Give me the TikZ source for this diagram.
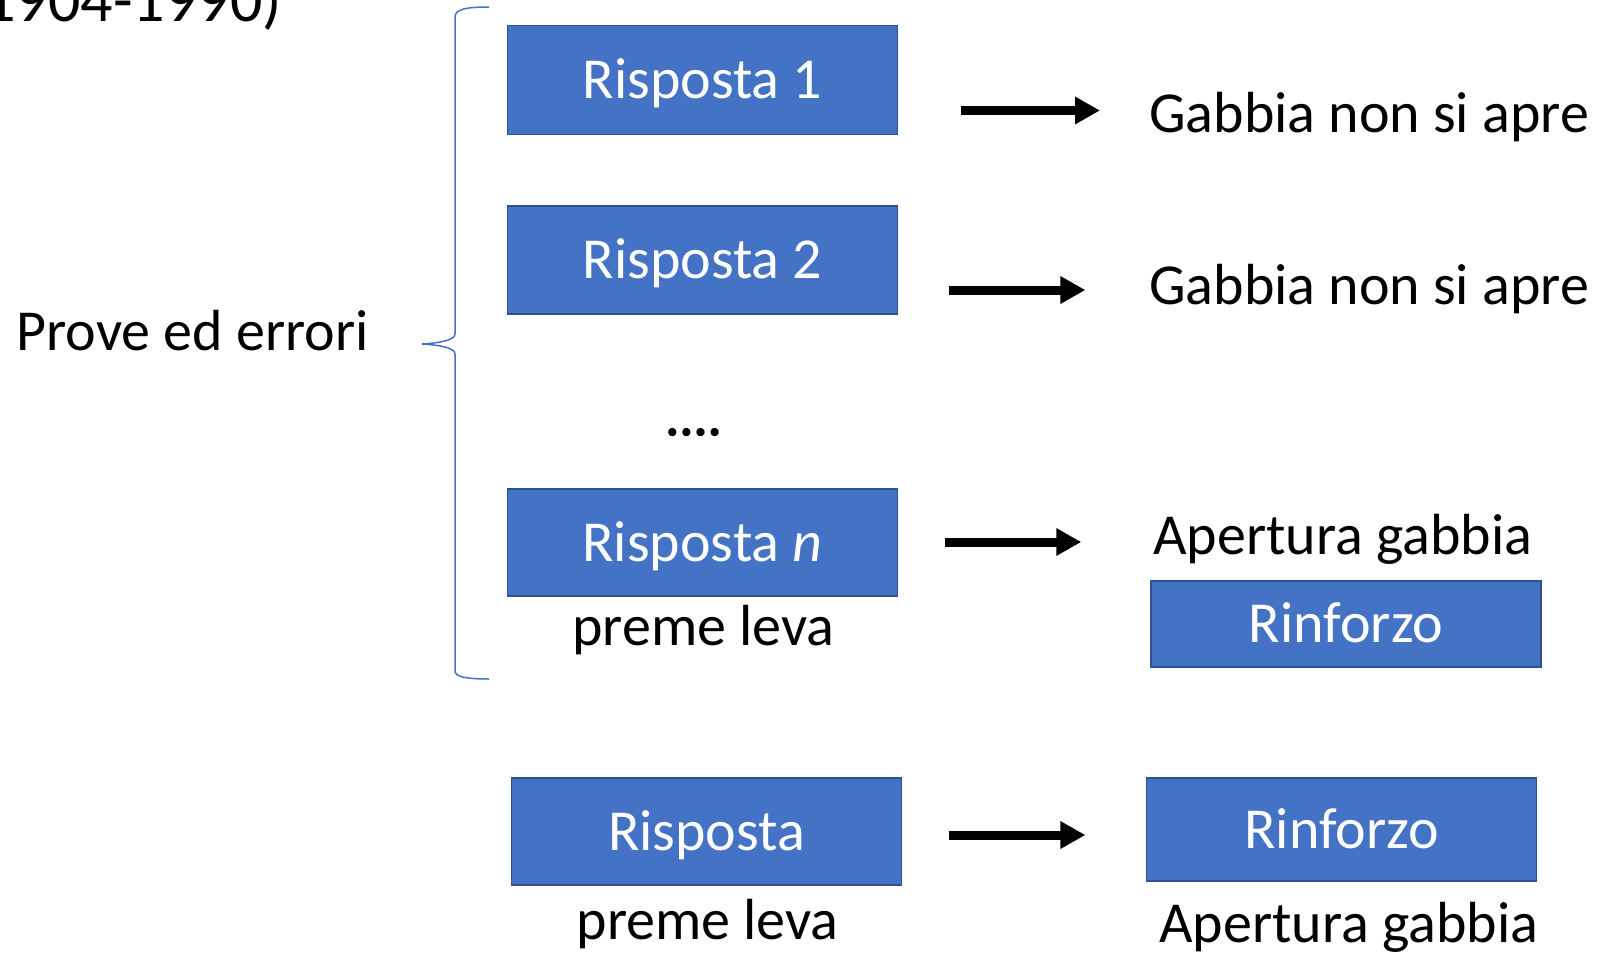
\documentclass[tikz,border=0pt]{standalone}
\usepackage{fontspec}
\setmainfont{Carlito}
\newfontfamily\dotfont[FakeBold=2.5]{Carlito}
\usetikzlibrary{arrows.meta}
\definecolor{boxblue}{HTML}{4472C4}
\definecolor{boxedge}{HTML}{2F528F}
\begin{document}
\begin{tikzpicture}[x=1pt,y=-1pt,
  rbox/.style={draw=boxedge, line width=1.5pt, fill=boxblue, text=white,
    minimum width=390pt, inner sep=0pt, text height=37pt, text depth=0pt,
    font=\fontsize{58}{70}\selectfont},
  lbl/.style={inner sep=0pt, font=\fontsize{58}{70}\selectfont},
  arr/.style={line width=9pt, -{Triangle[length=25pt,width=26pt]}},
  bracestyle/.style={draw=boxblue, line width=1.5pt}]
\useasboundingbox (0,0) rectangle (1601,956);

% boxes
\node[rbox, minimum height=109pt] (r1) at (702.5,80) {Risposta 1};
\node[rbox, minimum height=108pt] (r2) at (702.5,260) {Risposta 2};
\node[rbox, minimum height=107pt] (rn) at (702.5,542.5) {Risposta \textit{n}};
\node[rbox, minimum height=107pt] (rb) at (706.6,831.5) {Risposta};
\node[rbox, minimum height=86pt] (f1) at (1346,624) {Rinforzo};
\node[rbox, minimum height=103pt] (f2) at (1341.7,829.5) {Rinforzo};

% labels
\node[lbl, anchor=base west] (g1) at (1149,132.7) {Gabbia non si apre};
\node[lbl, anchor=base west] (g2) at (1149,304) {Gabbia non si apre};
\node[lbl, anchor=base west] (a1) at (1153,554) {Apertura gabbia};
\node[lbl, anchor=base west] (a2) at (1159,942) {Apertura gabbia};
\node[lbl, anchor=base] (p1) at (703.5,645) {preme leva};
\node[lbl, anchor=base] (p2) at (707.6,939.5) {preme leva};
\node[lbl, anchor=base west] (pe) at (16.3,350) {Prove ed errori};
\node[lbl, anchor=base, font=\fontsize{56}{70}\dotfont] (dots) at (693.5,435) {....};
\node[lbl, anchor=base east, font=\fontsize{64}{76}\selectfont] (yr) at (282,21.7) {1904-1990)};

% arrows
\coordinate (s1) at (961,110.5);   \coordinate (e1) at (1100,110.5);
\coordinate (s2) at (948.6,290); \coordinate (e2) at (1085.4,290);
\coordinate (s3) at (944.5,542); \coordinate (e3) at (1081.3,542);
\coordinate (s4) at (948.6,835); \coordinate (e4) at (1085.4,835);
\draw[arr] (s1) -- (e1);
\draw[arr] (s2) -- (e2);
\draw[arr] (s3) -- (e3);
\draw[arr] (s4) -- (e4);

% brace
\draw[bracestyle] (489,7) .. controls (467,7) and (455,9) .. (455,17)
  -- (455,334) .. controls (455,340) and (440,343) .. (422,344)
  .. controls (440,345) and (455,348) .. (455,354)
  -- (455,671) .. controls (455,677) and (467,679) .. (489,679);
\end{tikzpicture}
\end{document}
